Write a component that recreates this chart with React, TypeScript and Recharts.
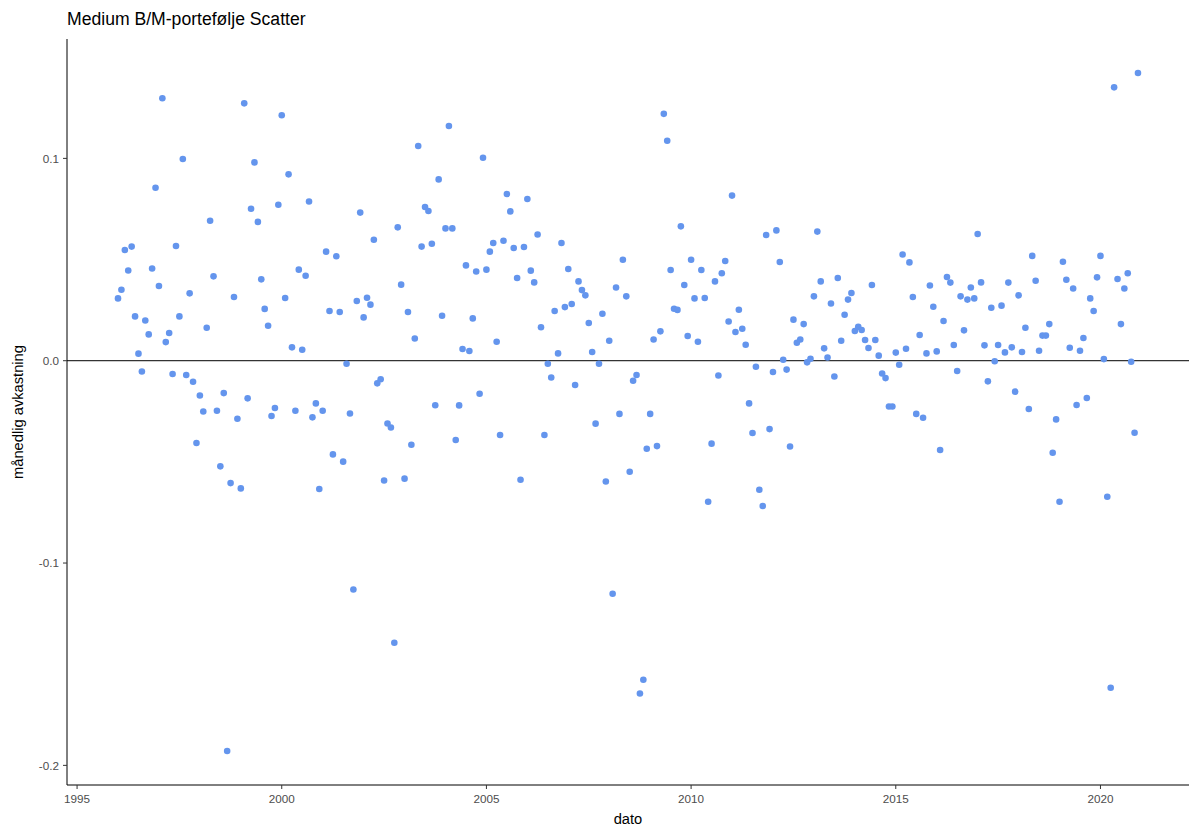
import React from 'react';
import {
  ScatterChart,
  Scatter,
  XAxis,
  YAxis,
  ReferenceLine,
} from 'recharts';

// monthly returns, Jan..Dec for each year
const r1996 = [0.0308, 0.0351, 0.0547, 0.0446, 0.0564, 0.0219, 0.0035, -0.0053, 0.0199, 0.013, 0.0456, 0.0855];
const r1997 = [0.0369, 0.1297, 0.0092, 0.0137, -0.0066, 0.0567, 0.0219, 0.0997, -0.0071, 0.0333, -0.0104, -0.0407];
const r1998 = [-0.0172, -0.0251, 0.0163, 0.0692, 0.0417, -0.0247, -0.0522, -0.016, -0.1929, -0.0605, 0.0315, -0.0287];
const r1999 = [-0.0631, 0.1272, -0.0186, 0.0751, 0.098, 0.0686, 0.0402, 0.0256, 0.0173, -0.0273, -0.0234, 0.0771];
const r2000 = [0.1213, 0.031, 0.0921, 0.0066, -0.0247, 0.045, 0.0054, 0.042, 0.0787, -0.028, -0.0211, -0.0634];
const r2001 = [-0.0247, 0.0539, 0.0246, -0.0463, 0.0516, 0.0241, -0.0499, -0.0015, -0.0261, -0.1131, 0.0295, 0.0732];
const r2002 = [0.0214, 0.0311, 0.0277, 0.0598, -0.0112, -0.0092, -0.0592, -0.031, -0.033, -0.1394, 0.0659, 0.0376];
const r2003 = [-0.0583, 0.0241, -0.0415, 0.011, 0.1061, 0.0564, 0.076, 0.074, 0.0578, -0.022, 0.0896, 0.0222];
const r2004 = [0.0654, 0.116, 0.0654, -0.0392, -0.0221, 0.0058, 0.0471, 0.0048, 0.0209, 0.0441, -0.0163, 0.1003];
const r2005 = [0.045, 0.0539, 0.0582, 0.0094, -0.0367, 0.0593, 0.0824, 0.0738, 0.0557, 0.0409, -0.0588, 0.0562];
const r2006 = [0.0799, 0.0445, 0.0387, 0.0624, 0.0165, -0.0367, -0.0015, -0.0083, 0.0246, 0.0036, 0.0582, 0.0265];
const r2007 = [0.0453, 0.028, -0.012, 0.0392, 0.0349, 0.0323, 0.0186, 0.0043, -0.0311, -0.0015, 0.0232, -0.0597];
const r2008 = [0.0099, -0.1152, 0.0362, -0.0263, 0.0499, 0.0318, -0.0549, -0.0099, -0.0071, -0.1645, -0.1577, -0.0435];
const r2009 = [-0.0263, 0.0105, -0.0422, 0.0145, 0.122, 0.1087, 0.0448, 0.0257, 0.0251, 0.0664, 0.0374, 0.0122];
const r2010 = [0.0499, 0.0308, 0.0094, 0.0448, 0.031, -0.0697, -0.041, 0.0392, -0.0073, 0.0432, 0.0493, 0.0194];
const r2011 = [0.0816, 0.0142, 0.0252, 0.0158, 0.0079, -0.0211, -0.0357, -0.003, -0.0638, -0.0718, 0.0621, -0.0338];
const r2012 = [-0.0056, 0.0644, 0.0488, 0.0005, -0.0044, -0.0424, 0.0203, 0.0089, 0.0105, 0.0181, -0.0008, 0.001];
const r2013 = [0.0318, 0.0638, 0.0392, 0.0061, 0.0016, 0.0283, -0.0078, 0.0409, 0.0099, 0.0227, 0.0302, 0.0335];
const r2014 = [0.0147, 0.0167, 0.0152, 0.0102, 0.0063, 0.0374, 0.0102, 0.0025, -0.0063, -0.0086, -0.0226, -0.0226];
const r2015 = [0.004, -0.002, 0.0525, 0.0059, 0.0486, 0.0315, -0.0263, 0.0127, -0.0282, 0.0036, 0.0372, 0.0267];
const r2016 = [0.0046, -0.0441, 0.0196, 0.0414, 0.0386, 0.0078, -0.0051, 0.0318, 0.015, 0.0302, 0.0362, 0.0308];
const r2017 = [0.0626, 0.0387, 0.0076, -0.0102, 0.0262, -0.0003, 0.0078, 0.0272, 0.0041, 0.0386, 0.0066, -0.0153];
const r2018 = [0.0323, 0.0043, 0.0163, -0.0239, 0.0518, 0.0395, 0.0049, 0.0124, 0.0124, 0.0181, -0.0455, -0.029];
const r2019 = [-0.0697, 0.0489, 0.04, 0.0064, 0.0357, -0.0219, 0.0049, 0.0112, -0.0184, 0.0308, 0.0246, 0.0412];
const r2020 = [0.0518, 0.0008, -0.0672, -0.1616, 0.1351, 0.0404, 0.0181, 0.0357, 0.0432, -0.0005, -0.0356, 0.1422];

const years = [1996, 1997, 1998, 1999, 2000, 2001, 2002, 2003, 2004, 2005, 2006, 2007, 2008,
  2009, 2010, 2011, 2012, 2013, 2014, 2015, 2016, 2017, 2018, 2019, 2020];
const returnsByYear = [r1996, r1997, r1998, r1999, r2000, r2001, r2002, r2003, r2004, r2005,
  r2006, r2007, r2008, r2009, r2010, r2011, r2012, r2013, r2014, r2015, r2016, r2017, r2018,
  r2019, r2020];

const xTicks = [1995, 2000, 2005, 2010, 2015, 2020];
const yTicks = [-0.2, -0.1, 0, 0.1];

const data = years.flatMap((year, i) =>
  returnsByYear[i].map((r, m) => ({ t: year + m / 12, r }))
);

const FONT = '"Liberation Sans", Arial, sans-serif';

const Dot = (props: any) => (
  <circle cx={props.cx} cy={props.cy} r={3.3} fill="#6495ED" />
);

export default function App() {
  return (
    <div
      style={{
        position: 'absolute',
        left: 0,
        top: 0,
        width: 1189,
        height: 829,
        overflow: 'hidden',
        background: '#fff',
        fontFamily: FONT,
      }}
    >
      <ScatterChart
        width={1189}
        height={829}
        margin={{ top: 39, right: 0, bottom: 4, left: 7 }}
      >
        <XAxis
          type="number"
          dataKey="t"
          domain={[1994.754, 2022.163]}
          ticks={xTicks}
          allowDataOverflow
          height={40}
          tickSize={4}
          tickMargin={6}
          axisLine={{ stroke: '#000', strokeWidth: 1 }}
          tickLine={{ stroke: '#333' }}
          tick={{ fill: '#4D4D4D', fontSize: 11.7, fontFamily: FONT }}
        />
        <YAxis
          type="number"
          dataKey="r"
          domain={[-0.2097, 0.159]}
          ticks={yTicks}
          allowDataOverflow
          width={60}
          tickSize={4}
          tickMargin={4}
          axisLine={{ stroke: '#000', strokeWidth: 1 }}
          tickLine={{ stroke: '#333' }}
          tick={{ fill: '#4D4D4D', fontSize: 11.7, fontFamily: FONT }}
          tickFormatter={(v: number) => v.toFixed(1)}
        />
        <ReferenceLine y={0} stroke="#000" strokeWidth={1} />
        <Scatter data={data} shape={Dot} isAnimationActive={false} />
      </ScatterChart>

      <div
        style={{
          position: 'absolute',
          left: 67,
          top: 11,
          fontSize: 17.6,
          lineHeight: 1,
          color: '#000',
          whiteSpace: 'nowrap',
        }}
      >
        Medium B/M-portefølje Scatter
      </div>
      <div
        style={{
          position: 'absolute',
          left: 628,
          top: 819,
          transform: 'translate(-50%, -50%)',
          fontSize: 14.7,
          lineHeight: 1,
          color: '#000',
          whiteSpace: 'nowrap',
        }}
      >
        dato
      </div>
      <div
        style={{
          position: 'absolute',
          left: 18,
          top: 412,
          transform: 'translate(-50%, -50%) rotate(-90deg)',
          fontSize: 14.7,
          lineHeight: 1,
          color: '#000',
          whiteSpace: 'nowrap',
        }}
      >
        månedlig avkastning
      </div>
    </div>
  );
}
